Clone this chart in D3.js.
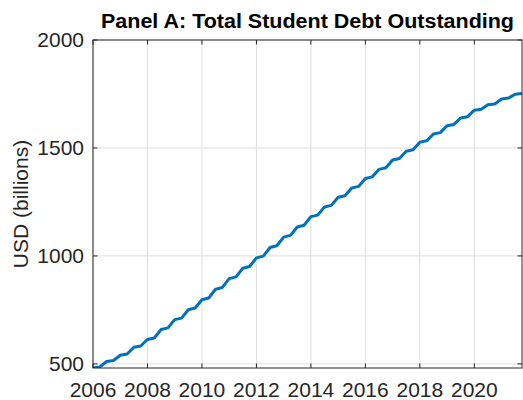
<!DOCTYPE html>
<html>
<head>
<meta charset="utf-8">
<script src="https://cdn.jsdelivr.net/npm/d3@7"></script>
<style>
  body { margin: 0; background: #fff; }
  text { font-family: "Liberation Sans", Arial, Helvetica, sans-serif; }
</style>
</head>
<body>
<svg width="523" height="400"></svg>
<script>
// quarterly observations, 2006Q1 .. 2021Q4 (plotted at year + quarter/4)
const years = [2006, 2007, 2008, 2009, 2010, 2011, 2012, 2013,
               2014, 2015, 2016, 2017, 2018, 2019, 2020, 2021];
const quarterOffsets = [0, 0.25, 0.5, 0.75];
// USD billions, four values per year
const debt = [
  481, 486, 511, 516,
  540, 546, 577, 583,
  613, 620, 659, 667,
  705, 712, 751, 759,
  797, 805, 846, 854,
  895, 903, 943, 951,
  991, 999, 1039, 1047,
  1087, 1095, 1134, 1142,
  1182, 1189, 1227, 1234,
  1272, 1279, 1315, 1322,
  1359, 1366, 1401, 1408,
  1444, 1451, 1485, 1492,
  1527, 1533, 1565, 1571,
  1603, 1609, 1639, 1645,
  1675, 1679, 1700, 1704,
  1727, 1731, 1749, 1752
];
const xTicks = [2006, 2008, 2010, 2012, 2014, 2016, 2018, 2020];
const yTicks = [500, 1000, 1500, 2000];
const titleText = "Panel A: Total Student Debt Outstanding";
const yLabel = "USD (billions)";

let pts = [];
for (let i = 0; i < years.length; i++) {
  for (let q = 0; q < quarterOffsets.length; q++) {
    pts.push({t: years[i] + quarterOffsets[q], v: debt[i * 4 + q]});
  }
}

const pL = 93, pR = 522, pT = 40, pB = 368;
const svg = d3.select("svg");

const x = d3.scaleLinear().domain([pts[0].t, pts[pts.length - 1].t]).range([pL, pR]);
const y = d3.scaleLinear().domain([d3.min(pts, d => d.v), 2000]).range([pB, pT]);

const tickLen = 4.5;
const axisCol = "#262626";

// grid
svg.append("g").selectAll("line").data(xTicks).join("line")
  .attr("x1", d => x(d)).attr("x2", d => x(d))
  .attr("y1", pT).attr("y2", pB)
  .attr("stroke", "#dfdfdf").attr("stroke-width", 1);
svg.append("g").selectAll("line").data(yTicks).join("line")
  .attr("x1", pL).attr("x2", pR)
  .attr("y1", d => y(d)).attr("y2", d => y(d))
  .attr("stroke", "#dfdfdf").attr("stroke-width", 1);

// data line
svg.append("defs").append("clipPath").attr("id", "clip")
  .append("rect").attr("x", pL).attr("y", pT)
  .attr("width", pR - pL).attr("height", pB - pT);

svg.append("path")
  .datum(pts)
  .attr("clip-path", "url(#clip)")
  .attr("fill", "none")
  .attr("stroke", "#0072BD")
  .attr("stroke-width", 3)
  .attr("stroke-linejoin", "round")
  .attr("d", d3.line().x(d => x(d.t)).y(d => y(d.v)));

// box
svg.append("rect")
  .attr("x", pL).attr("y", pT)
  .attr("width", pR - pL).attr("height", pB - pT)
  .attr("fill", "none").attr("stroke", axisCol).attr("stroke-width", 1);

// ticks (inward, on all four sides)
let tk = svg.append("g").attr("stroke", axisCol).attr("stroke-width", 1);
xTicks.forEach(function(t) {
  tk.append("line").attr("x1", x(t)).attr("x2", x(t)).attr("y1", pB).attr("y2", pB - tickLen);
  tk.append("line").attr("x1", x(t)).attr("x2", x(t)).attr("y1", pT).attr("y2", pT + tickLen);
});
yTicks.forEach(function(v) {
  tk.append("line").attr("x1", pL).attr("x2", pL + tickLen).attr("y1", y(v)).attr("y2", y(v));
  tk.append("line").attr("x1", pR).attr("x2", pR - tickLen).attr("y1", y(v)).attr("y2", y(v));
});

// tick labels
svg.append("g").selectAll("text").data(xTicks).join("text")
  .attr("x", d => x(d)).attr("y", 397)
  .attr("text-anchor", "middle")
  .style("font-size", "21px").attr("fill", axisCol)
  .text(d => d);
svg.append("g").selectAll("text").data(yTicks).join("text")
  .attr("x", pL - 9).attr("y", d => y(d)).attr("dy", "0.35em")
  .attr("text-anchor", "end")
  .style("font-size", "21px").attr("fill", axisCol)
  .text(d => d);

// y label
svg.append("text")
  .attr("transform", `translate(28,${(pT + pB) / 2}) rotate(-90)`)
  .attr("text-anchor", "middle")
  .style("font-size", "21px").attr("fill", axisCol)
  .text(yLabel);

// title
svg.append("text")
  .attr("x", (pL + pR) / 2).attr("y", 28)
  .attr("text-anchor", "middle")
  .style("font-size", "20px").style("font-weight", "bold")
  .attr("textLength", 413).attr("lengthAdjust", "spacingAndGlyphs")
  .attr("fill", "#000")
  .text(titleText);
</script>
</body>
</html>
